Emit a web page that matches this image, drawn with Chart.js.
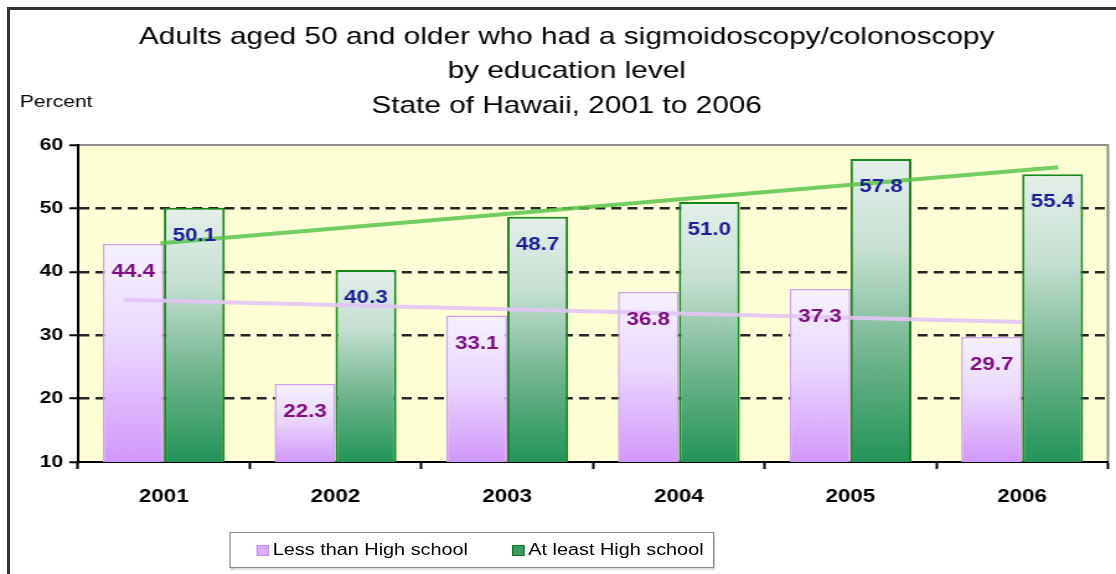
<!DOCTYPE html>
<html>
<head>
<meta charset="utf-8">
<script src="https://cdn.jsdelivr.net/npm/chart.js@4"></script>
<style>
  html, body { margin: 0; padding: 0; background: #fff; overflow: hidden; }
  #page { position: relative; width: 1116px; height: 574px; overflow: hidden; }
  #frame { position: absolute; left: 7px; top: 7px; width: 1200px; height: 700px;
    border-left: 3px solid #333; border-top: 3px solid #333; }
  /* the source picture is stretched sideways, so the chart is drawn at 900px and widened */
  #wrap { position: absolute; left: 0; top: 0; width: 900px; height: 574px;
    transform: scaleX(1.24); transform-origin: 0 0; }
  #legend { position: absolute; left: 185px; top: 532px; width: 389px; height: 34px;
    border: 1.5px solid #8a8a8a; box-shadow: 1px 2px 1px #c4c4c4; background: #fff;
    font: 16px "Liberation Sans", Arial, sans-serif; color: #000; }
  .item { position: absolute; top: 0; line-height: 34px; white-space: nowrap; }
  .sw { display: inline-block; width: 8px; height: 9px; margin-right: 3px; vertical-align: -1px; }
</style>
</head>
<body>
<div id="page">
  <div id="frame"></div>
  <div id="wrap">
    <canvas id="c" width="900" height="574" style="width:900px;height:574px"></canvas>
    <div id="legend">
      <span class="item" style="left:21px"><span class="sw" style="background:#d9acff;border:1px solid #c08ee8"></span>Less than High school</span>
      <span class="item" style="left:227px"><span class="sw" style="background:#3d9a63;border:1.5px solid #0f7a18"></span>At least High school</span>
    </div>
  </div>
</div>
<script>
const years = ['2001', '2002', '2003', '2004', '2005', '2006'];
const lessThanHS = [44.4, 22.3, 33.1, 36.8, 37.3, 29.7];
const atLeastHS = [50.1, 40.3, 48.7, 51.0, 57.8, 55.4];

// trend lines (x in category units, 0 = left edge of plot)
const trendLessX = [0.27, 5.5];
const trendLessY = [35.6, 32.1];
const trendHSX = [0.48, 5.71];
const trendHSY = [44.5, 56.5];

const titleLines = [
  'Adults aged 50 and older who had a sigmoidoscopy/colonoscopy',
  'by education level',
  'State of Hawaii, 2001 to 2006',
];

const FONT = '"Liberation Sans", Arial, sans-serif';

// per-bar vertical gradient, from the bar top down to the axis
function barGradient(stops) {
  return (c) => {
    const chart = c.chart;
    const area = chart.chartArea;
    if (!area || c.type !== 'data' || !chart.scales.y) return stops[stops.length - 1][1];
    const top = chart.scales.y.getPixelForValue(c.raw);
    const g = chart.ctx.createLinearGradient(0, top, 0, area.bottom);
    stops.forEach(([o, col]) => g.addColorStop(o, col));
    return g;
  };
}

const plotBackground = {
  id: 'plotBackground',
  beforeDraw(chart) {
    const { ctx, chartArea: a } = chart;
    ctx.save();
    ctx.fillStyle = '#ffffd6';
    ctx.fillRect(a.left, a.top, a.right - a.left, a.bottom - a.top);
    ctx.strokeStyle = '#8c8c8c';
    ctx.lineWidth = 2;
    ctx.beginPath();
    ctx.moveTo(a.left, a.top);
    ctx.lineTo(a.right, a.top);
    ctx.lineTo(a.right, a.bottom);
    ctx.stroke();
    ctx.restore();
  },
};

// Trend lines go through the hidden 'xt' scale and the y scale. They are not
// line datasets: a mixed chart here gives the bars four slots instead of two.
function strokeTrend(chart, xs, ys, color) {
  const { ctx, scales } = chart;
  ctx.save();
  ctx.strokeStyle = color;
  ctx.lineWidth = 4;
  ctx.lineCap = 'butt';
  ctx.beginPath();
  xs.forEach((x, i) => {
    const px = scales.xt.getPixelForValue(x);
    const py = scales.y.getPixelForValue(ys[i]);
    if (i === 0) ctx.moveTo(px, py); else ctx.lineTo(px, py);
  });
  ctx.stroke();
  ctx.restore();
}

const overlays = {
  id: 'overlays',
  afterDatasetsDraw(chart) {
    strokeTrend(chart, trendLessX, trendLessY, 'rgba(226,196,244,0.9)');
    strokeTrend(chart, trendHSX, trendHSY, 'rgba(92,196,74,0.85)');

    const ctx = chart.ctx;
    ctx.save();
    ctx.font = `bold 18px ${FONT}`;
    ctx.textAlign = 'center';
    ctx.textBaseline = 'middle';
    [[0, lessThanHS, '#7d0f80'], [1, atLeastHS, '#1d1d9a']].forEach(([i, vals, col]) => {
      ctx.fillStyle = col;
      chart.getDatasetMeta(i).data.forEach((bar, j) => {
        ctx.fillText(vals[j].toFixed(1), bar.x, bar.y + 28);
      });
    });
    ctx.restore();
  },
  afterDraw(chart) {
    const ctx = chart.ctx;
    ctx.save();
    ctx.font = `17px ${FONT}`;
    ctx.fillStyle = '#000';
    ctx.textAlign = 'left';
    ctx.textBaseline = 'middle';
    ctx.fillText('Percent', 16, 102);
    ctx.restore();
  },
};

new Chart(document.getElementById('c'), {
  type: 'bar',
  data: {
    labels: years,
    datasets: [
      {
        label: 'Less than High school', data: lessThanHS,
        categoryPercentage: 0.71, barPercentage: 1,
        backgroundColor: barGradient([[0, '#f5f1fe'], [0.45, '#ead8fd'], [1, '#d198fb']]),
        borderColor: '#cf9ef2', borderWidth: 1.5,
      },
      {
        label: 'At least High school', data: atLeastHS,
        categoryPercentage: 0.71, barPercentage: 1,
        backgroundColor: barGradient([[0, '#e5efeb'], [0.3, '#c6e0d2'], [0.65, '#6fb58e'], [1, '#23945a']]),
        borderColor: '#17861c', borderWidth: 2,
      },
    ],
  },
  options: {
    responsive: false,
    animation: false,
    devicePixelRatio: 1,
    layout: { padding: { left: 20.5, right: 6.5, top: 0, bottom: 0 } },
    plugins: {
      legend: { display: false },
      tooltip: { enabled: false },
      title: {
        display: true,
        text: titleLines,
        color: '#000',
        font: { family: FONT, size: 24, weight: 'normal', lineHeight: 1.45 },
        padding: { top: 19.6, bottom: 21 },
      },
    },
    scales: {
      x: {
        type: 'category',
        offset: true,
        grid: { offset: true, drawOnChartArea: false, drawTicks: true, tickLength: 7, tickColor: '#000', tickWidth: 2 },
        border: { color: '#000', width: 2 },
        ticks: { color: '#000', padding: 17, font: { family: FONT, size: 18, weight: 'bold' } },
        afterFit(s) { s.height = 112; },
      },
      xt: { type: 'linear', axis: 'x', position: 'bottom', min: 0, max: 6, offset: false, display: false },
      y: {
        min: 10, max: 60,
        ticks: { stepSize: 10, color: '#000', padding: 5, font: { family: FONT, size: 17, weight: 'bold' } },
        grid: {
          color: (c) => (c.tick && (c.tick.value === 10 || c.tick.value === 60)) ? 'rgba(0,0,0,0)' : '#262626',
          lineWidth: 2.5,
          tickLength: 7, tickColor: '#000', tickWidth: 2, tickBorderDash: [],
        },
        border: { color: '#000', width: 2, dash: [8, 5] },
        afterFit(s) { s.width = 42.4; },
      },
    },
  },
  plugins: [plotBackground, overlays],
});
</script>
</body>
</html>
